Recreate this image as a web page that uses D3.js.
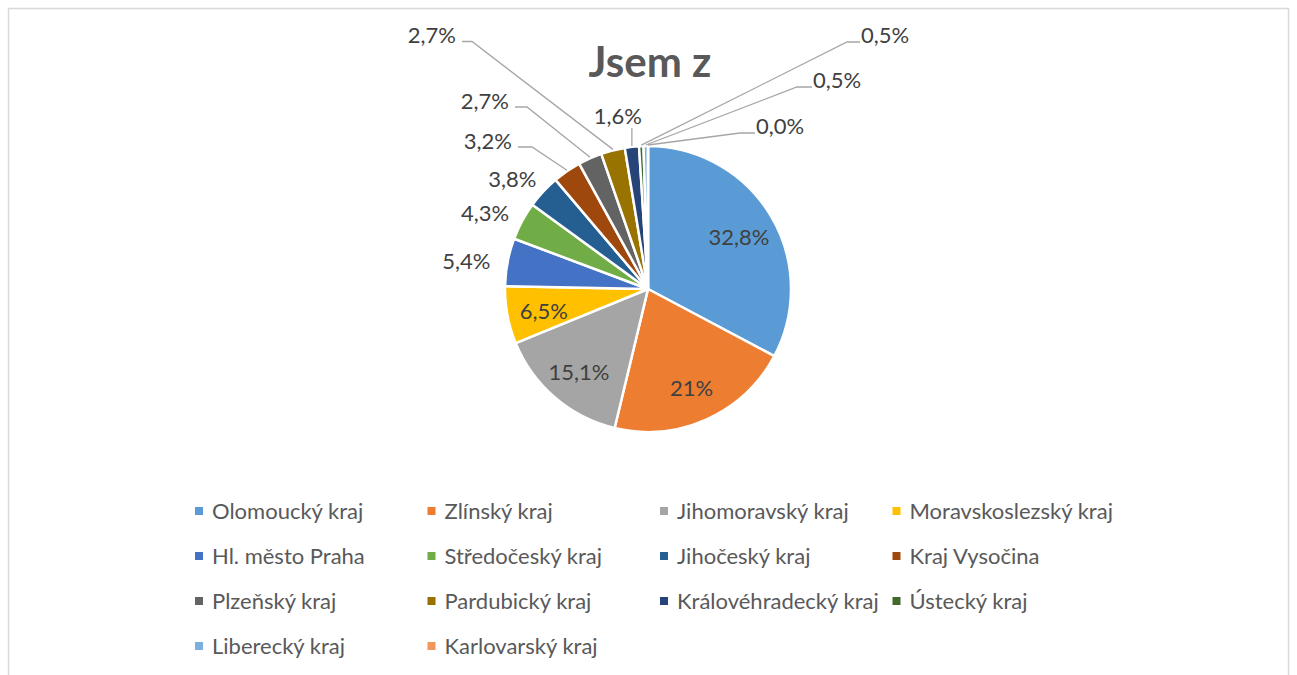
<!DOCTYPE html>
<meta charset="utf-8">
<html>
<head>
<title>Jsem z</title>
<style>
html, body {
  margin: 0;
  background: #fff;
}
body {
  font-family: Lato, "Open Sans", sans-serif;
}
</style>
<script src="https://d3js.org/d3.v7.min.js"></script>
</head>
<body>
<div id="chart"></div>
<script>
// data
var regions = ["Olomoucký kraj", "Zlínský kraj", "Jihomoravský kraj", "Moravskoslezský kraj",
  "Hl. město Praha", "Středočeský kraj", "Jihočeský kraj", "Kraj Vysočina",
  "Plzeňský kraj", "Pardubický kraj", "Královéhradecký kraj", "Ústecký kraj",
  "Liberecký kraj", "Karlovarský kraj"];
var shares = [32.8, 21, 15.1, 6.5, 5.4, 4.3, 3.8, 3.2, 2.7, 2.7, 1.6, 0.5, 0.5, 0.0];
var shareLabels = ["32,8%", "21%", "15,1%", "6,5%", "5,4%", "4,3%", "3,8%", "3,2%",
  "2,7%", "2,7%", "1,6%", "0,5%", "0,5%", "0,0%"];
var colors = ["#5B9BD5", "#ED7D31", "#A5A5A5", "#FFC000", "#4472C4", "#70AD47", "#255E91",
  "#9E480E", "#636363", "#997300", "#264478", "#43682B", "#7CAFDD", "#F1975A"];
var title = "Jsem z";

// layout
var W = 1297, H = 675;
var cx = 648, cy = 289, R = 143;
var fontSize = 22;
var legendCols = 4, legendX0 = 195, legendColW = 232.5, legendY0 = 511, legendRowH = 45;

// label placement: inside / outside end / with leader line
var inside = [0, 1, 2, 3];
var outside = [4, 5, 6];
// leader elbow end relative to pie centre, side of the label
var leader = {
  7:  {x: -130, y: -142, side: "l", len: 14},
  8:  {x: -133, y: -182, side: "l", len: 12},
  9:  {x: -186, y: -247.5, side: "l", len: 10},
  10: {y: -161, side: "u"},
  11: {x: 212, y: -247, side: "r", len: 13},
  12: {x: 164, y: -202, side: "r", len: 15},
  13: {x: 107, y: -156, side: "r", len: 15}
};

var svg = d3.select("#chart").append("svg")
  .attr("width", W)
  .attr("height", H);

// chart frame
svg.append("rect")
  .attr("x", 8.5).attr("y", 8.5)
  .attr("width", 1280).attr("height", H + 20)
  .attr("fill", "#fff")
  .attr("stroke", "#d9d9d9")
  .attr("stroke-width", 1.5);

svg.append("text")
  .attr("x", 650).attr("y", 77)
  .attr("text-anchor", "middle")
  .attr("font-size", 42)
  .attr("font-weight", "bold")
  .attr("fill", "#595959")
  .text(title);

var pie = d3.pie().sort(null).value(function(d) { return d; });
var arcs = pie(shares);
var arc = d3.arc().innerRadius(0).outerRadius(R);

var g = svg.append("g").attr("transform", "translate(" + cx + "," + cy + ")");

g.selectAll("path.slice")
  .data(arcs)
  .enter().append("path")
    .attr("class", "slice")
    .attr("d", arc)
    .attr("fill", function(d, i) { return colors[i]; })
    .attr("stroke", "#fff")
    .attr("stroke-width", 2.5)
    .attr("stroke-linejoin", "round");

function midAngle(d) { return (d.startAngle + d.endAngle) / 2; }
function onCircle(a, r) { return [Math.sin(a) * r, -Math.cos(a) * r]; }

var labelStyle = function(sel) {
  sel.attr("font-size", fontSize).attr("fill", "#404040");
};

// inside labels
inside.forEach(function(i) {
  var p = onCircle(midAngle(arcs[i]), 106);
  g.append("text")
    .call(labelStyle)
    .attr("x", p[0]).attr("y", p[1] + 3)
    .attr("text-anchor", "middle")
    .attr("dy", "0.35em")
    .text(shareLabels[i]);
});

// outside end labels
outside.forEach(function(i) {
  var a = midAngle(arcs[i]);
  var p = onCircle(a, R + 12);
  var t = g.append("text")
    .call(labelStyle)
    .attr("text-anchor", "middle")
    .attr("dy", "0.35em")
    .text(shareLabels[i]);
  var w = t.node().getComputedTextLength();
  t.attr("x", p[0] + Math.sin(a) * (w / 2 + 6))
   .attr("y", p[1] - Math.cos(a) * 10 + 3);
});

// labels with leader lines
Object.keys(leader).forEach(function(k) {
  var i = +k, L = leader[k];
  var p = onCircle(midAngle(arcs[i]), R);
  var pts;
  if (L.side === "u") {
    pts = [[p[0], p[1] - 1], [p[0], L.y]];
  } else {
    var ex = L.side === "l" ? L.x + L.len : L.x - L.len;
    pts = [[p[0], p[1] - 1], [ex, L.y], [L.x, L.y]];
  }
  g.append("path")
    .attr("d", d3.line()(pts))
    .attr("fill", "none")
    .attr("stroke", "#a6a6a6")
    .attr("stroke-width", 1.3);
  var t = g.append("text").call(labelStyle).text(shareLabels[i]);
  if (L.side === "l") {
    t.attr("x", L.x - 6).attr("y", L.y + 1.5).attr("text-anchor", "end");
  } else if (L.side === "r") {
    t.attr("x", L.x + 1).attr("y", L.y + 1).attr("text-anchor", "start");
  } else {
    t.attr("x", p[0] - 14).attr("y", L.y - 4).attr("text-anchor", "middle");
  }
});

// legend
var legend = svg.append("g");
regions.forEach(function(name, i) {
  var col = i % legendCols, row = Math.floor(i / legendCols);
  var x = legendX0 + col * legendColW, y = legendY0 + row * legendRowH;
  legend.append("rect")
    .attr("x", x).attr("y", y - 4)
    .attr("width", 8).attr("height", 8)
    .attr("fill", colors[i]);
  legend.append("text")
    .attr("x", x + 17).attr("y", y)
    .attr("dy", "0.35em")
    .attr("font-size", fontSize)
    .attr("fill", "#595959")
    .text(name);
});
</script>
</body>
</html>
